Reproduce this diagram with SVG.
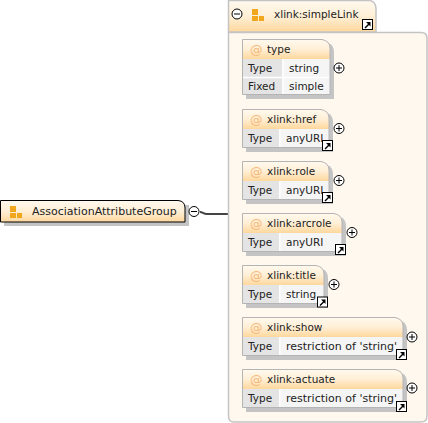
<svg xmlns="http://www.w3.org/2000/svg" width="428" height="423" viewBox="0 0 428 423">
<style>
text{font-family:"DejaVu Sans","Liberation Sans",sans-serif;font-size:10.5px;fill:#222}
.w{font-size:11px}
.at{font-size:12.500px;fill:#f7b878}
.sh{fill:#c4c4c4}
.hd{fill:url(#hg)}
.fr{fill:none;stroke:#b4b4b4;stroke-width:1}
.lb{fill:#e4e4e4}
.vl{fill:#f5f5f5}
.sep{stroke:#fff;stroke-width:1.5}
.c{fill:#fff;stroke:#000;stroke-width:1}
.s{stroke:#000;stroke-width:1;fill:none}
.ib{fill:#fff;stroke:#000;stroke-width:1}
.ar{fill:#000}
.sq{fill:#f0a71e}
</style>
<defs>
<linearGradient id="hg" x1="0" y1="0" x2="0" y2="1"><stop offset="0" stop-color="#fff9ee"/><stop offset="0.5" stop-color="#ffefd6"/><stop offset="1" stop-color="#ffd79c"/></linearGradient>
<g id="plus"><circle class="c" r="5"/><path class="s" d="M-3 0H3M0-3V3"/></g>
<g id="minus"><circle class="c" r="5"/><path class="s" d="M-3 0H3"/></g>
<g id="lnk"><rect class="ib" x="0.5" y="0.5" width="10" height="10"/><path class="ar" d="M2.5 8.500L6 5 4 3H8.500V7.500L7 6 3.500 9.500Z"/></g>
<g id="ico"><rect class="sq" x="0" y="0" width="6" height="6"/><rect class="sq" x="0" y="7" width="6" height="5"/><rect class="sq" x="7" y="7" width="5" height="5"/></g>
</defs>
<g id="connectors"><path d="M200 212C203 212 203 214 207 214H228" fill="none" stroke="#444" stroke-width="1.800"/></g>
<g id="group-panel">
<path d="M228.500 32.500H421Q427 32.500 427 38V416Q427 422 421 422H234Q228.500 422 228.500 416Z" fill="#fff8ef" stroke="#c4c4c4" stroke-width="1.500"/>
</g>
<g id="simpleLink">
<path d="M228.500 32V0.500H370Q376 2 376 9V32Z" class="hd" stroke="#c4c4c4" stroke-width="1.500"/>
<use href="#minus" x="237" y="14"/>
<use href="#ico" x="252" y="9"/>
<text x="274" y="18">xlink:simpleLink</text>
<use href="#lnk" x="362" y="19"/>
</g>
<g id="AssociationAttributeGroup">
<path d="M4 205H189V226H4Z" class="sh"/>
<path d="M0.500 200.500H178Q185 201 185 208V222H0.500Z" class="hd" stroke="#000" stroke-width="1"/>
<use href="#ico" x="10" y="206"/>
<text class="w" x="32" y="215">AssociationAttributeGroup</text>
<use href="#minus" x="194" y="211.500"/>
</g>
<g id="type">
<path d="M246 43H328Q334 45 334 52V99H246Z" class="sh"/>
<path d="M242.500 39.500H322Q330 41 330 48V59H242.500Z" class="hd"/>
<rect class="lb" x="242.500" y="59" width="40" height="36"/><rect class="vl" x="283" y="59" width="47" height="36"/>
<path class="sep" d="M242 77.500H330M282.800 59V95"/>
<path class="fr" d="M242.500 94.500V39.500H322Q330 41 330 48V94.500Z"/>
<text class="at" x="250" y="54">@</text><text x="267" y="53">type</text>
<text x="248" y="72">Type</text><text x="289" y="72">string</text>
<text x="248" y="90">Fixed</text><text x="289" y="90">simple</text>
<use href="#plus" x="339" y="68"/>
</g>
<g id="href">
<path d="M246 113H327Q333 115 333 122V152H246Z" class="sh"/>
<path d="M242.500 109.500H321Q329 111 329 118V129H242.500Z" class="hd"/>
<rect class="lb" x="242.500" y="129" width="37" height="19"/><rect class="vl" x="280" y="129" width="49" height="19"/>
<path class="sep" d="M279.800 129V148"/>
<path class="fr" d="M242.500 147.500V109.500H321Q329 111 329 118V147.500Z"/>
<text class="at" x="250" y="124">@</text><text x="267" y="123">xlink:href</text>
<text x="248" y="142">Type</text><text x="286" y="142">anyURI</text>
<use href="#lnk" x="322" y="140"/><use href="#plus" x="339" y="128.500"/>
</g>
<g id="role">
<path d="M246 165H327Q333 167 333 174V204H246Z" class="sh"/>
<path d="M242.500 161.500H321Q329 163 329 170V181H242.500Z" class="hd"/>
<rect class="lb" x="242.500" y="181" width="37" height="19"/><rect class="vl" x="280" y="181" width="49" height="19"/>
<path class="sep" d="M279.800 181V200"/>
<path class="fr" d="M242.500 199.500V161.500H321Q329 163 329 170V199.500Z"/>
<text class="at" x="250" y="176">@</text><text x="267" y="175">xlink:role</text>
<text x="248" y="194">Type</text><text x="286" y="194">anyURI</text>
<use href="#lnk" x="322" y="192"/><use href="#plus" x="339" y="180.500"/>
</g>
<g id="arcrole">
<path d="M246 217H340Q346 219 346 226V256H246Z" class="sh"/>
<path d="M242.500 213.500H334Q342 215 342 222V233H242.500Z" class="hd"/>
<rect class="lb" x="242.500" y="233" width="37" height="19"/><rect class="vl" x="280" y="233" width="62" height="19"/>
<path class="sep" d="M279.800 233V252"/>
<path class="fr" d="M242.500 251.500V213.500H334Q342 215 342 222V251.500Z"/>
<text class="at" x="250" y="228">@</text><text x="267" y="227">xlink:arcrole</text>
<text x="248" y="246">Type</text><text x="286" y="246">anyURI</text>
<use href="#lnk" x="335" y="244"/><use href="#plus" x="352" y="232.500"/>
</g>
<g id="title">
<path d="M246 269H322Q328 271 328 278V308H246Z" class="sh"/>
<path d="M242.500 265.500H316Q324 267 324 274V285H242.500Z" class="hd"/>
<rect class="lb" x="242.500" y="285" width="37" height="19"/><rect class="vl" x="280" y="285" width="44" height="19"/>
<path class="sep" d="M279.800 285V304"/>
<path class="fr" d="M242.500 303.500V265.500H316Q324 267 324 274V303.500Z"/>
<text class="at" x="250" y="280">@</text><text x="267" y="279">xlink:title</text>
<text x="248" y="298">Type</text><text x="286" y="298">string</text>
<use href="#lnk" x="317" y="296.500"/><use href="#plus" x="334" y="284.500"/>
</g>
<g id="show">
<path d="M246 321H401Q407 323 407 330V360H246Z" class="sh"/>
<path d="M242.500 317.500H395Q403 319 403 326V337H242.500Z" class="hd"/>
<rect class="lb" x="242.500" y="337" width="37" height="19"/><rect class="vl" x="280" y="337" width="123" height="19"/>
<path class="sep" d="M279.800 337V356"/>
<path class="fr" d="M242.500 355.500V317.500H395Q403 319 403 326V355.500Z"/>
<text class="at" x="250" y="332">@</text><text x="267" y="331">xlink:show</text>
<text x="248" y="350">Type</text><text class="w" x="286" y="350">restriction of 'string'</text>
<use href="#lnk" x="396" y="349"/><use href="#plus" x="412" y="337"/>
</g>
<g id="actuate">
<path d="M246 373H401Q407 375 407 382V412H246Z" class="sh"/>
<path d="M242.500 369.500H395Q403 371 403 378V389H242.500Z" class="hd"/>
<rect class="lb" x="242.500" y="389" width="37" height="19"/><rect class="vl" x="280" y="389" width="123" height="19"/>
<path class="sep" d="M279.800 389V408"/>
<path class="fr" d="M242.500 407.500V369.500H395Q403 371 403 378V407.500Z"/>
<text class="at" x="250" y="384">@</text><text x="267" y="383">xlink:actuate</text>
<text x="248" y="402">Type</text><text class="w" x="286" y="402">restriction of 'string'</text>
<use href="#lnk" x="396" y="401"/><use href="#plus" x="412" y="388"/>
</g>
</svg>
